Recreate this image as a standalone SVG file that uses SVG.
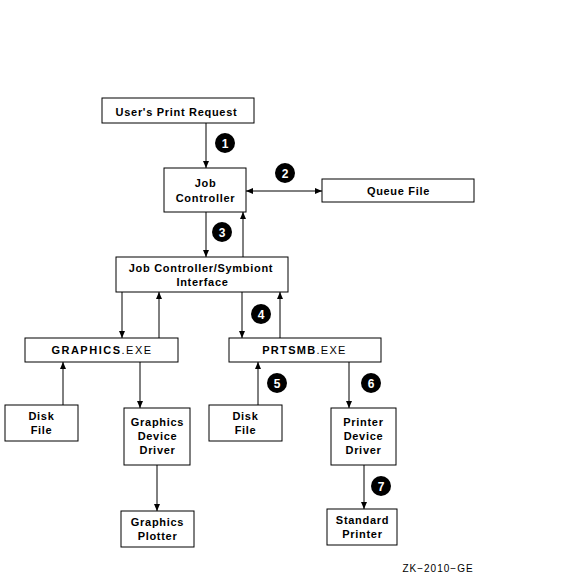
<svg xmlns="http://www.w3.org/2000/svg" width="572" height="578" viewBox="0 0 572 578">
<style>
.box{fill:#fff;stroke:#000;stroke-width:1}
.t{font-family:"Liberation Sans",Arial,sans-serif;font-size:11px;font-weight:bold;fill:#000;text-anchor:middle;letter-spacing:0.7px}
.tn{font-family:"Liberation Sans",Arial,sans-serif;font-size:11px;fill:#000;text-anchor:middle}
.c{fill:#000}
.cn{font-family:"Liberation Sans",Arial,sans-serif;font-size:12px;font-weight:bold;fill:#fff;text-anchor:middle}
.ln{stroke:#000;stroke-width:1;fill:none;marker-end:url(#ah)}
</style>
<defs>
<marker id="ah" markerWidth="7" markerHeight="7" refX="7" refY="3.5" orient="auto" markerUnits="userSpaceOnUse">
<path d="M0,0.5 L7,3.5 L0,6.5 Z" fill="#000"/>
</marker>
</defs>
<rect width="572" height="578" fill="#fff"/>
<g id="connectors">
<line class="ln" x1="206" y1="123" x2="206" y2="168"/>
<line class="ln" x1="284" y1="191" x2="246" y2="191"/>
<line class="ln" x1="284" y1="191" x2="322" y2="191"/>
<line class="ln" x1="206" y1="212" x2="206" y2="257"/>
<line class="ln" x1="243" y1="257" x2="243" y2="212"/>
<line class="ln" x1="122" y1="292" x2="122" y2="338"/>
<line class="ln" x1="159" y1="338" x2="159" y2="292"/>
<line class="ln" x1="242" y1="292" x2="242" y2="338"/>
<line class="ln" x1="280" y1="338" x2="280" y2="292"/>
<line class="ln" x1="63" y1="405" x2="63" y2="362"/>
<line class="ln" x1="140" y1="362" x2="140" y2="408"/>
<line class="ln" x1="157" y1="465" x2="157" y2="511"/>
<line class="ln" x1="258" y1="405" x2="258" y2="362"/>
<line class="ln" x1="349" y1="362" x2="349" y2="408"/>
<line class="ln" x1="364" y1="465" x2="364" y2="509"/>
</g>
<g id="request"><rect class="box" x="102" y="98" width="152" height="25"/><text class="t" x="176.5" y="116">User's Print Request</text></g>
<g id="jobcontroller"><rect class="box" x="164" y="168" width="82" height="44"/><text class="t" x="205.5" y="187">Job</text><text class="t" x="205.5" y="202">Controller</text></g>
<g id="queuefile"><rect class="box" x="322" y="179" width="152" height="23"/><text class="t" x="398.5" y="195">Queue File</text></g>
<g id="interface"><rect class="box" x="116" y="257" width="172" height="35"/><text class="t" x="201" y="272">Job Controller/Symbiont</text><text class="t" x="202.5" y="286">Interface</text></g>
<g id="graphicsexe"><rect class="box" x="25" y="338" width="153" height="24"/><text class="tn" x="102" y="354" style="letter-spacing:1.5px"><tspan font-weight="bold">GRAPHICS</tspan>.EXE</text></g>
<g id="prtsmbexe"><rect class="box" x="229" y="338" width="152" height="24"/><text class="tn" x="304.5" y="354" style="letter-spacing:1.3px"><tspan font-weight="bold">PRTSMB</tspan>.EXE</text></g>
<g id="diskfile1"><rect class="box" x="5" y="405" width="73" height="36"/><text class="t" x="41.5" y="420">Disk</text><text class="t" x="41.5" y="434">File</text></g>
<g id="graphicsdriver"><rect class="box" x="124" y="408" width="66" height="57"/><text class="t" x="157.5" y="426">Graphics</text><text class="t" x="157.5" y="440">Device</text><text class="t" x="157.5" y="454">Driver</text></g>
<g id="graphicsplotter"><rect class="box" x="121" y="511" width="73" height="36"/><text class="t" x="157.5" y="526">Graphics</text><text class="t" x="157.5" y="540">Plotter</text></g>
<g id="diskfile2"><rect class="box" x="209" y="405" width="73" height="36"/><text class="t" x="245.5" y="420">Disk</text><text class="t" x="245.5" y="434">File</text></g>
<g id="printerdriver"><rect class="box" x="331" y="408" width="65" height="57"/><text class="t" x="363.5" y="426">Printer</text><text class="t" x="363.5" y="440">Device</text><text class="t" x="363.5" y="454">Driver</text></g>
<g id="standardprinter"><rect class="box" x="327" y="509" width="70" height="36"/><text class="t" x="362.5" y="524">Standard</text><text class="t" x="362.5" y="538">Printer</text></g>
<g id="callout1"><circle class="c" cx="225" cy="143" r="10"/><text class="cn" x="225" y="147.5">1</text></g>
<g id="callout2"><circle class="c" cx="285" cy="173" r="10"/><text class="cn" x="285" y="177.5">2</text></g>
<g id="callout3"><circle class="c" cx="222" cy="232" r="10"/><text class="cn" x="222" y="236.5">3</text></g>
<g id="callout4"><circle class="c" cx="261" cy="314" r="10"/><text class="cn" x="261" y="318.5">4</text></g>
<g id="callout5"><circle class="c" cx="277" cy="383" r="10"/><text class="cn" x="277" y="387.5">5</text></g>
<g id="callout6"><circle class="c" cx="371" cy="383" r="10"/><text class="cn" x="371" y="387.5">6</text></g>
<g id="callout7"><circle class="c" cx="381" cy="486" r="10"/><text class="cn" x="381" y="490.5">7</text></g>
<text class="tn" x="438" y="572" style="font-size:10px;letter-spacing:1px">ZK−2010−GE</text>
</svg>
